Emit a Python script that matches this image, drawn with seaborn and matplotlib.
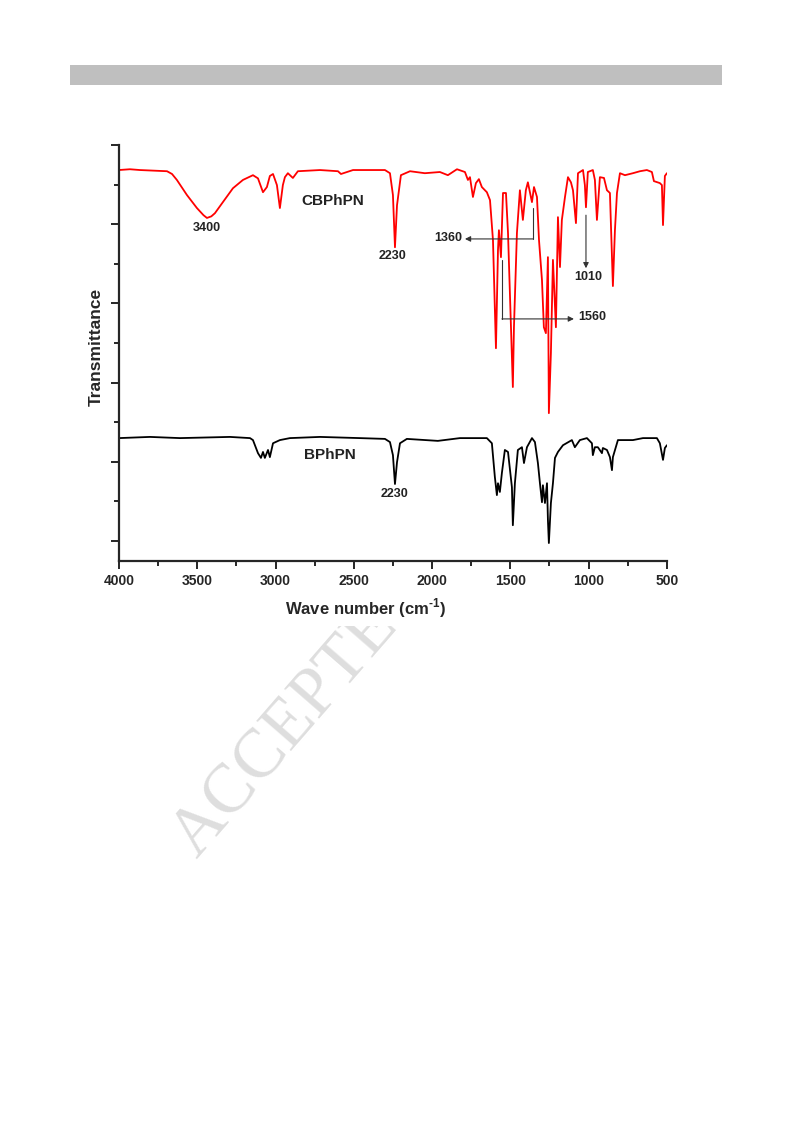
import numpy as np
import pandas as pd
import seaborn as sns
import matplotlib.pyplot as plt
from matplotlib.patches import Rectangle
from matplotlib.ticker import MultipleLocator
from matplotlib.transforms import Bbox, TransformedBbox

# spectra (wave number, transmittance in arbitrary units)
cbphpn_wn = [4000, 3930, 3866, 3693, 3661, 3630, 3566, 3502, 3460, 3438, 3410, 3387, 3336, 3272, 3208,
             3144, 3112, 3080, 3055, 3036,
             3016, 2991, 2972, 2953, 2940, 2921, 2889, 2857, 2716, 2601, 2582, 2505, 2301, 2269, 2250,
             2237, 2224, 2199, 2141, 2046, 1950, 1899, 1841, 1790, 1771, 1758, 1739, 1720, 1701, 1682,
             1650, 1630, 1611, 1592, 1579, 1573, 1560, 1547, 1528, 1515, 1496, 1484, 1477, 1458, 1439,
             1420, 1401, 1388, 1362, 1349, 1330, 1317, 1298, 1286, 1273, 1260, 1254, 1241, 1228, 1209,
             1196, 1183, 1171, 1151, 1132, 1113, 1100, 1081, 1068, 1036, 1024, 1017, 1005, 973, 960,
             947, 928, 902, 883, 864, 845, 832, 819, 800, 768, 717, 672, 628, 596, 583,
             545, 532, 525, 513, 500]
cbphpn_t = [93.7, 93.9, 93.7, 93.4, 92.7, 91.2, 87.4, 84.1, 82.3, 81.6, 82.0, 82.8, 85.6, 89.1, 91.2,
            92.4, 91.6, 88.1, 89.4, 92.2,
            92.7, 89.9, 84.1, 89.9, 91.9, 92.9, 91.7, 93.4, 93.7, 93.4, 92.7, 93.7, 93.7, 92.9, 87.4,
            74.2, 84.8, 92.4, 93.4, 92.9, 93.2, 92.4, 93.9, 93.2, 91.2, 91.9, 86.9, 90.4, 91.4, 89.4,
            88.1, 86.1, 76.0, 48.7, 73.5, 78.5, 71.7, 87.9, 87.9, 77.8, 54.0, 38.9, 54.0, 77.8, 88.6,
            81.1, 88.6, 90.6, 85.6, 89.4, 86.9, 76.0, 65.9, 54.0, 52.5, 71.7, 32.3, 47.5, 71.0, 54.0,
            81.8, 69.2, 81.1, 86.9, 91.9, 90.6, 88.6, 80.3, 92.9, 93.7, 89.9, 84.3, 93.2, 93.7, 91.2,
            81.1, 91.9, 91.7, 88.6, 87.9, 64.4, 78.5, 87.9, 92.9, 92.4, 92.9, 93.4, 93.7, 93.2, 90.9,
            90.4, 89.9, 79.8, 92.2, 92.9]

bphpn_wn = [4000, 3802, 3610, 3291, 3163, 3144, 3112, 3093, 3080, 3068, 3048, 3036, 3016, 2972, 2908,
            2716, 2461, 2301, 2269, 2250, 2237, 2224, 2205, 2161, 1963, 1822, 1650, 1618, 1599, 1586,
            1579, 1567, 1554, 1535, 1515, 1490, 1484, 1471, 1452, 1426, 1413, 1394, 1362, 1343, 1324,
            1311, 1298, 1292, 1279, 1266, 1260, 1254, 1241, 1228, 1215, 1196, 1164, 1107, 1088, 1056,
            1011, 979, 973, 960, 941, 915, 909, 883, 864, 851, 845, 813, 717, 653, 564,
            545, 525, 513, 500]
bphpn_t = [26.0, 26.3, 26.0, 26.3, 26.0, 25.5, 22.2, 21.0, 22.5, 21.0, 23.0, 21.2, 24.7, 25.5, 26.0,
           26.3, 26.0, 25.8, 25.0, 21.7, 14.4, 19.9, 24.7, 25.8, 25.3, 26.0, 26.0, 24.7, 16.2, 11.6,
           14.6, 12.4, 17.2, 23.0, 22.5, 13.6, 4.0, 14.6, 23.0, 23.7, 19.7, 23.7, 26.0, 25.0, 19.7,
           14.6, 9.8, 14.1, 9.6, 14.6, 5.3, -0.5, 9.6, 14.6, 21.0, 22.5, 24.2, 25.5, 23.7, 25.5,
           26.0, 24.7, 21.7, 23.7, 23.7, 22.2, 23.5, 23.0, 21.2, 17.9, 21.2, 25.5, 25.5, 26.0, 26.0,
           24.7, 20.5, 23.5, 24.2]

xticks = [4000, 3500, 3000, 2500, 2000, 1500, 1000, 500]

sns.set_style("ticks")
plt.rcParams['font.family'] = ['Liberation Sans', 'DejaVu Sans']
plt.rcParams['font.weight'] = 'bold'
plt.rcParams['mathtext.fontset'] = 'custom'
plt.rcParams['mathtext.rm'] = 'Liberation Sans'
plt.rcParams['mathtext.bf'] = 'Liberation Sans:bold'

fig = plt.figure(figsize=(7.93, 11.23), dpi=100)

# grey header bar + watermark (only the part below the chart image shows)
fig.patches.append(Rectangle((0.0883, 0.9243), 0.822, 0.0178, transform=fig.transFigure,
                             facecolor='#bfbfbf', edgecolor='none'))
wm = fig.text(0.36, 0.348, "ACCEPTE", rotation=49, fontsize=50, color='#dedede',
              family='Liberation Serif', weight='normal', ha='center', va='center')
wm.set_clip_box(TransformedBbox(Bbox([[0, 0], [1, 0.443]]), fig.transFigure))

ax = fig.add_axes([0.150, 0.5004, 0.691, 0.3704])

df_red = pd.DataFrame({"wn": cbphpn_wn, "T": cbphpn_t})
df_blk = pd.DataFrame({"wn": bphpn_wn, "T": bphpn_t})
sns.lineplot(data=df_red, x="wn", y="T", color='red', lw=1.3, sort=False, estimator=None, ax=ax)
sns.lineplot(data=df_blk, x="wn", y="T", color='black', lw=1.3, sort=False, estimator=None, ax=ax)

ax.set_xlim(4000, 500)
ax.set_ylim(-5.05, 100)
ax.set_xticks(xticks)
ax.set_xticklabels([str(v) for v in xticks])
ax.xaxis.set_minor_locator(MultipleLocator(250))
ax.yaxis.set_major_locator(MultipleLocator(20))
ax.yaxis.set_minor_locator(MultipleLocator(10))
ax.tick_params(axis='both', which='major', direction='out', length=6, width=1.4, labelsize=10, pad=3)
ax.tick_params(axis='both', which='minor', direction='out', length=3.5, width=1.4)
ax.tick_params(axis='y', labelleft=False)
for lab in ax.get_xticklabels():
    lab.set_fontweight('bold')
sns.despine(ax=ax)
for s in ['left', 'bottom']:
    ax.spines[s].set_linewidth(1.6)

ax.set_xlabel(r"Wave number (cm$^{\text{-1}}$)", fontsize=12, fontweight='bold')
ax.set_ylabel("Transmittance", fontsize=12.5, fontweight='bold')
ax.xaxis.set_label_coords(0.449, -0.085)
ax.yaxis.set_label_coords(-0.028, 0.515)

# peak labels
lab_kw = dict(fontsize=9, fontweight='bold', ha='center', va='center', color='#222222')
ax.text(3440, 79, "3400", **lab_kw)
ax.text(2250, 72, "2230", **lab_kw)
ax.text(2237, 11.9, "2230", **lab_kw)
ax.text(1899, 76.5, "1360", **lab_kw)
ax.text(979, 56.6, "1560", **lab_kw)
ax.text(1005, 66.7, "1010", **lab_kw)
ax.text(2633, 85.9, "CBPhPN", fontsize=11, fontweight='bold', ha='center', va='center', color='#222222')
ax.text(2652, 21.7, "BPhPN", fontsize=11, fontweight='bold', ha='center', va='center', color='#222222')

# pointer arrows
arr = dict(arrowstyle='-|>', color='#333333', lw=0.8, mutation_scale=8, shrinkA=0, shrinkB=0)
ax.plot([1356, 1356], [84.1, 76.3], color='#333333', lw=0.8)
ax.annotate("", xy=(1790, 76.3), xytext=(1356, 76.3), arrowprops=arr)
ax.plot([1554, 1554], [71.0, 56.1], color='#333333', lw=0.8)
ax.annotate("", xy=(1094, 56.1), xytext=(1554, 56.1), arrowprops=arr)
ax.annotate("", xy=(1017, 68.9), xytext=(1017, 82.3), arrowprops=arr)

plt.savefig("out.png", dpi=100)
